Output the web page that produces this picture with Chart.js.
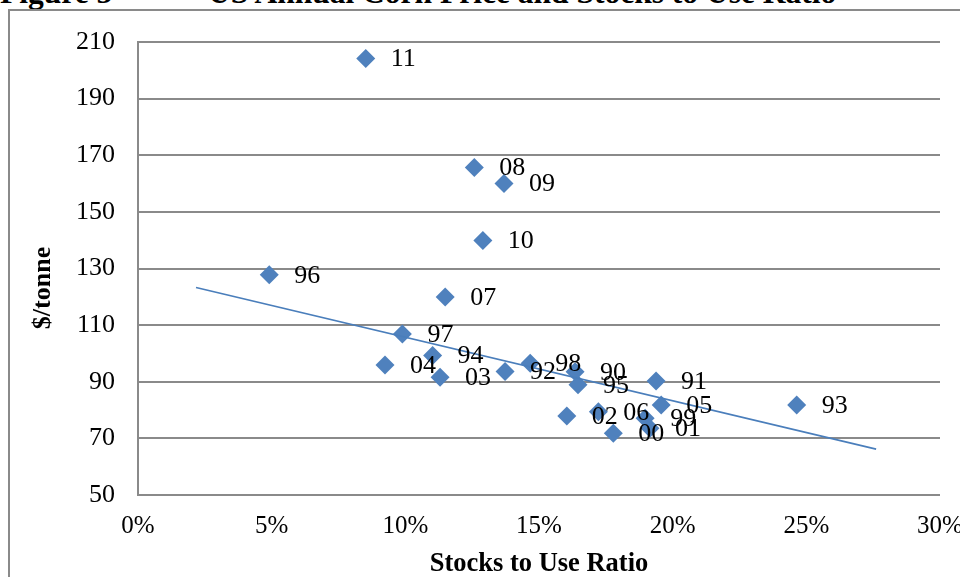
<!DOCTYPE html>
<html>
<head>
<meta charset="utf-8">
<title>US Annual Corn Price and Stocks to Use Ratio</title>
<script src="https://cdn.jsdelivr.net/npm/chart.js@4.4.1/dist/chart.umd.min.js"></script>
<style>
  html, body { margin: 0; padding: 0; background: #fff; overflow: hidden; }
  #cap { position: absolute; top: -23px; left: 0; white-space: nowrap;
    font: bold 31.5px "Liberation Serif", "Times New Roman", serif; line-height: 31px; color: #000; }
  #cap span { position: absolute; top: 0; }
  #frame { position: absolute; left: 8px; top: 9px; width: 1000px; height: 640px;
    border: 2px solid #8a8a8a; box-sizing: border-box; }
  #wrap { position: absolute; left: 0; top: 0; width: 960px; height: 577px; }
</style>
</head>
<body>
<div id="cap"><span style="left:0">Figure 5</span><span style="left:208px">US Annual Corn Price and Stocks to Use Ratio</span></div>
<div id="frame"></div>
<div id="wrap"><canvas id="chart"></canvas></div>
<script>
/* Maisprijs VS tegen stocks-to-use ratio, met trendlijn. */

// ── data ───────────────────────────────────────────────────────────
const years  = ["90", "91", "92", "93", "94", "95", "96", "97", "98", "99", "00",
                "01", "02", "03", "04", "05", "06", "07", "08", "09", "10", "11"];
const stocks = [16.35, 19.38, 13.73, 24.64, 11.02, 16.46, 4.91, 9.89, 14.67, 18.97, 17.78,
                19.15, 16.04, 11.30, 9.24, 19.57, 17.22, 11.49, 12.58, 13.69, 12.90, 8.52];
const price  = [93.5, 90.3, 93.6, 81.8, 99.3, 88.9, 127.8, 106.9, 96.5, 77.1, 71.8,
                73.6, 77.9, 91.6, 95.9, 81.8, 79.4, 119.9, 165.7, 160.0, 139.9, 204.2];
// trendlijn: begin- en eindpunt zoals getekend
const trendX = [2.17, 27.61];
const trendY = [123.3, 66.2];
const xTicks = [0, 5, 10, 15, 20, 25, 30];
const yTicks = [50, 70, 90, 110, 130, 150, 170, 190, 210];

const BLUE = "#4F81BD";
const GRID = "#8a8a8a";
const SERIF = '"Liberation Serif", "Times New Roman", serif';

// ── labels naast de punten ─────────────────────────────────────────
const yearLabels = {
  id: "yearLabels",
  afterDatasetsDraw(chart) {
    const { ctx } = chart;
    const meta = chart.getDatasetMeta(0);
    ctx.save();
    ctx.font = "26px " + SERIF;
    ctx.fillStyle = "#000";
    ctx.textAlign = "left";
    ctx.textBaseline = "middle";
    meta.data.forEach((pt, i) => ctx.fillText(years[i], pt.x + 25, pt.y + 1));
    ctx.restore();
  },
};

new Chart(document.getElementById("chart"), {
  type: "scatter",
  data: {
    datasets: [
      {
        label: "Prijs",
        data: stocks.map((x, i) => ({ x, y: price[i] })),
        pointStyle: "rectRot",
        pointRadius: 9.5,
        pointBackgroundColor: BLUE,
        pointBorderWidth: 0,
        order: 2,
      },
      {
        label: "Trend",
        data: trendX.map((x, i) => ({ x, y: trendY[i] })),
        showLine: true,
        borderColor: "#4A7EBB",
        borderWidth: 1.6,
        pointRadius: 0,
        order: 1,
      },
    ],
  },
  options: {
    responsive: true,
    maintainAspectRatio: false,
    animation: false,
    layout: { padding: { left: 0, top: 42, right: 0, bottom: 0 } },
    plugins: { legend: { display: false }, tooltip: { enabled: false } },
    scales: {
      x: {
        type: "linear", min: 0, max: 30,
        afterBuildTicks: (s) => { s.ticks = xTicks.map((v) => ({ value: v })); },
        afterFit: (s) => { s.height = 82; s.paddingRight = 20; s.paddingLeft = 0; },
        grid: { display: false, drawTicks: false },
        border: { display: false },
        ticks: { callback: (v) => v + "%", padding: 16, color: "#000", font: { family: SERIF, size: 25 } },
        title: { display: true, text: "Stocks to Use Ratio", color: "#000",
          font: { family: SERIF, size: 26.5, weight: "bold", lineHeight: 1.0 }, padding: { top: 0, bottom: 0 } },
      },
      y: {
        type: "linear", min: 50, max: 210,
        afterBuildTicks: (s) => { s.ticks = yTicks.map((v) => ({ value: v })); },
        afterFit: (s) => { s.width = 138; },
        grid: { color: GRID, lineWidth: 2, drawTicks: false },
        border: { display: true, color: GRID, width: 2 },
        ticks: { padding: 23, color: "#000", font: { family: SERIF, size: 26 } },
        title: { display: true, text: "$/tonne      ", color: "#000",
          font: { family: SERIF, size: 26, weight: "bold", lineHeight: 1.2 }, padding: { top: 28, bottom: 0 } },
      },
    },
  },
  plugins: [yearLabels],
});
</script>
</body>
</html>
